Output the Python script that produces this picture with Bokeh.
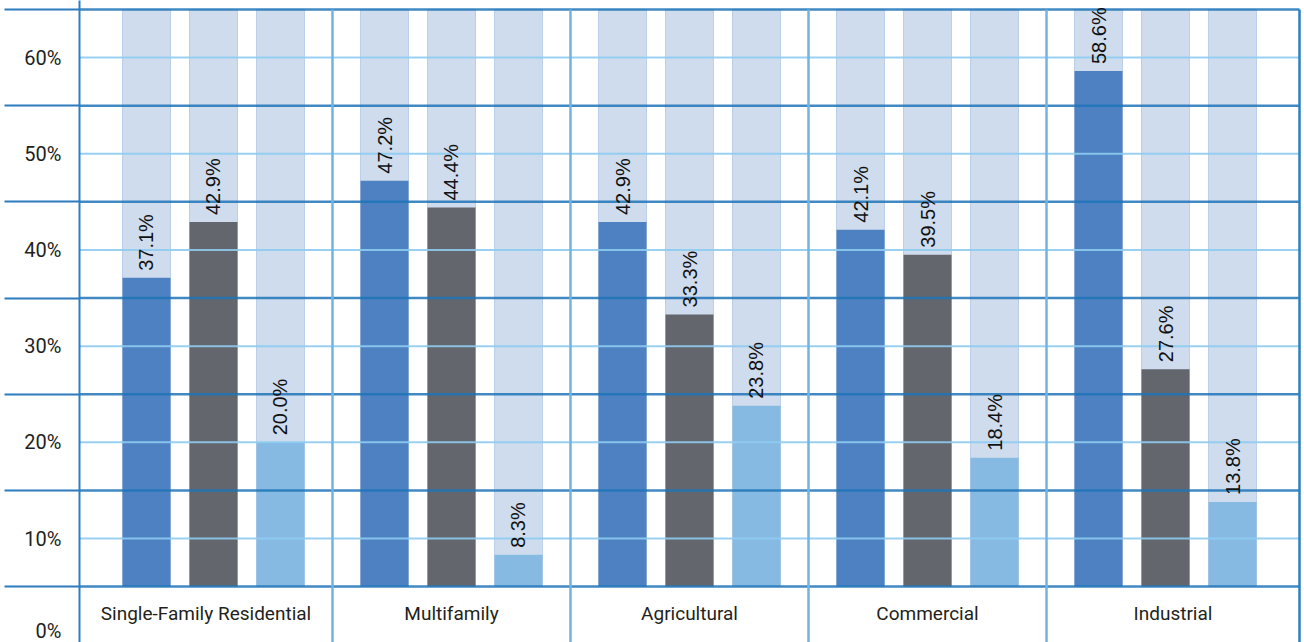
import math

from bokeh.core.properties import value
from bokeh.embed import file_html
from bokeh.models import FixedTicker, LinearAxis, PrintfTickFormatter, Range1d
from bokeh.plotting import figure
from bokeh.resources import INLINE

# ---- data -------------------------------------------------------------
categories = ["Single-Family Residential", "Multifamily", "Agricultural",
              "Commercial", "Industrial"]
series_blue = [37.1, 47.2, 42.9, 42.1, 58.6]
series_gray = [42.9, 44.4, 33.3, 39.5, 27.6]
series_light = [20.0, 8.3, 23.8, 18.4, 13.8]
y_ticks = [0, 10, 20, 30, 40, 50, 60]
band_lines = [5, 15, 25, 35, 45, 55, 65]

# ---- styling ----------------------------------------------------------
BAR_COLORS = ["#4e81c2", "#63666c", "#86bae3"]
TRACK_COLOR = "#cfdcee"
TRACK_EDGE = "#bccfe9"
DARK_LINE = "#1f74b7"
LIGHT_LINE = "#8ecbf1"
DIVIDER = "#72b3e2"
BORDER = "#2e7fc2"
TEXT = "#231f20"

X_START, X_END = -0.563, 4.584      # group slots at 0..4
Y_START, Y_END = -0.81, 65.93
PANEL_EDGES = [-0.563, 0.5, 1.5, 2.5, 3.5, 4.563]
OFFSETS = [-0.2815, 0.0, 0.2815]
BAR_W = 0.2017
TOP = band_lines[-1]
BASE = band_lines[0]
TICK_REACH = 75                      # how far band lines run into the margin

p = figure(width=1304, height=642,
           x_range=Range1d(X_START, X_END), y_range=Range1d(Y_START, Y_END),
           x_axis_type=None, y_axis_type=None,
           toolbar_location=None, output_backend="svg",
           min_border=0, min_border_left=79,
           outline_line_color=None, background_fill_color="white",
           border_fill_color="white")

# left axis: percent labels, band lines continue into the margin as minor ticks
yaxis = LinearAxis(
    ticker=FixedTicker(ticks=y_ticks, minor_ticks=band_lines),
    formatter=PrintfTickFormatter(format="%d%%"),
    axis_line_color=BORDER, axis_line_width=2,
    major_tick_line_color=None, major_tick_in=0, major_tick_out=0,
    minor_tick_line_color="#2b7bbd", minor_tick_line_width=2,
    minor_tick_in=0, minor_tick_out=TICK_REACH,
    major_label_standoff=18 - TICK_REACH,
    major_label_text_font="Roboto", major_label_text_font_size="20px",
    major_label_text_color=TEXT,
)
p.add_layout(yaxis, "left")

slots = list(range(len(categories)))
series = [series_blue, series_gray, series_light]

# pale tracks behind every bar
for off in OFFSETS:
    p.vbar(x=[s + off for s in slots], width=BAR_W, bottom=0, top=TOP,
           fill_color=TRACK_COLOR, line_color=TRACK_EDGE, line_width=1)

# value bars
for vals, off, col in zip(series, OFFSETS, BAR_COLORS):
    p.vbar(x=[s + off for s in slots], width=BAR_W, bottom=0, top=vals,
           fill_color=col, line_color=None)

# white band that holds the category names
p.quad(left=X_START, right=X_END, bottom=Y_START, top=BASE,
       fill_color="white", line_color=None)

# horizontal rules
p.segment(x0=PANEL_EDGES[0], x1=PANEL_EDGES[-1], y0=y_ticks[1:], y1=y_ticks[1:],
          line_color=LIGHT_LINE, line_width=2, line_alpha=0.9)
p.segment(x0=PANEL_EDGES[0], x1=PANEL_EDGES[-1], y0=band_lines, y1=band_lines,
          line_color=DARK_LINE, line_width=2.5, line_alpha=0.85)

# panel dividers and right border
p.segment(x0=PANEL_EDGES[1:-1], x1=PANEL_EDGES[1:-1], y0=Y_START, y1=TOP,
          line_color=DIVIDER, line_width=2.5)
p.segment(x0=[PANEL_EDGES[-1]], x1=[PANEL_EDGES[-1]], y0=Y_START, y1=TOP,
          line_color=BORDER, line_width=2.5)

# category names, centred in their panels
centers = [(a + b) / 2 for a, b in zip(PANEL_EDGES[:-1], PANEL_EDGES[1:])]
p.text(x=centers, y=[2.2] * len(categories), text=categories,
       text_align="center", text_baseline="middle",
       text_font=value("Roboto"), text_font_size="19px", text_color=TEXT)

# rotated value labels above each bar
for vals, off in zip(series, OFFSETS):
    p.text(x=[s + off for s in slots], y=vals,
           text=[f"{v:.1f}%" for v in vals],
           angle=math.pi / 2, text_align="left", text_baseline="middle",
           y_offset=-7,
           text_font=value("Liberation Sans"), text_font_size="20px",
           text_color="#111111")

open("out.html", "w").write(file_html(p, INLINE))
